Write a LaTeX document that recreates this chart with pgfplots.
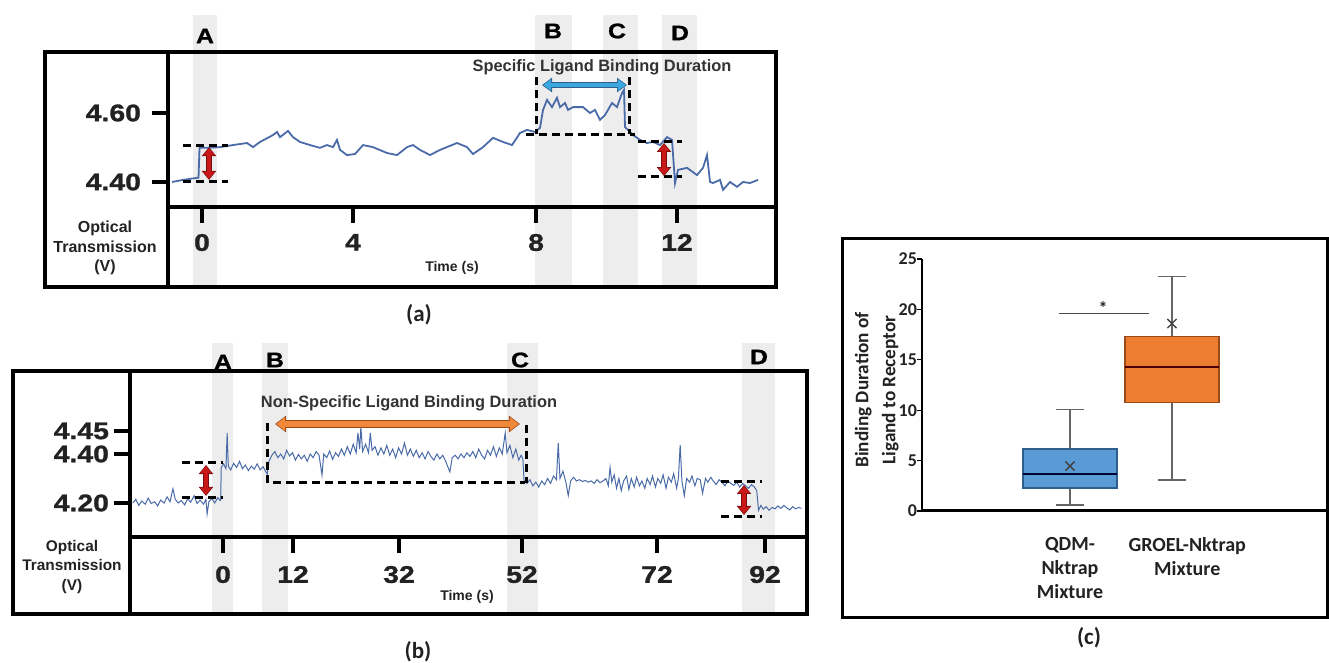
\documentclass[border=0pt]{standalone}
\usepackage{fontspec}
\setmainfont{Liberation Sans}
\newfontfamily\tickfont[FakeStretch=1.18,BoldFeatures={FakeBold=1.2}]{Liberation Sans}
\newfontfamily\cfont{Carlito}
\usepackage{pgfplots}
\pgfplotsset{compat=1.18}
\usepgfplotslibrary{statistics}
\usetikzlibrary{arrows.meta}
\definecolor{band}{HTML}{EDEDED}
\definecolor{trace}{HTML}{4A6BA8}
\definecolor{boxblue}{HTML}{5B9BD5}
\definecolor{boxblueD}{HTML}{2F5F8F}
\definecolor{boxorange}{HTML}{ED7D31}
\definecolor{boxorangeD}{HTML}{9A4A18}
\definecolor{arrowblue}{HTML}{3AA8DE}
\definecolor{arrowred}{HTML}{C81818}
\definecolor{arroworange}{HTML}{F0883A}
\definecolor{txt}{HTML}{222222}
\begin{document}
\begin{tikzpicture}
\useasboundingbox (0,0) rectangle (664.5pt,331.5pt);
% ---------- gray bands (pixel frame) ----------
\begin{scope}[x=0.5pt,y=-0.5pt,shift={(0pt,331.5pt)}]
  \fill[band] (193,15) rectangle (217,287);
  \fill[band] (535,15) rectangle (572,287);
  \fill[band] (603,15) rectangle (638,287);
  \fill[band] (662,15) rectangle (697,287);
  \fill[band] (212,343) rectangle (233,614);
  \fill[band] (262,343) rectangle (288,614);
  \fill[band] (507,343) rectangle (538,614);
  \fill[band] (742,343) rectangle (775,614);
\end{scope}

% ---------------- panel (a) ----------------
\begin{axis}[
  at={(84pt,228pt)}, anchor=south west, scale only axis,
  width=304pt, height=77.5pt,
  xmin=-0.859, xmax=14.502, ymin=4.3275, ymax=4.7768,
  axis line style={line width=1.8pt},
  tick align=outside, tick pos=left,
  xtick={0,3.815,8.44,12}, xticklabels={0,4,8,12},
  ytick={4.4,4.6}, yticklabels={4.40,4.60},
  major tick length=8pt,
  tick style={black, line width=2pt},
  ticklabel style={font=\tickfont\bfseries\fontsize{12}{12}\selectfont, text=txt},
  xticklabel style={yshift=-2pt},
  yticklabel style={xshift=-2pt},
  clip=false,
]
\addplot[trace, line width=0.9pt] table {
-0.758 4.400
-0.480 4.406
-0.126 4.412
-0.088 4.412
-0.063 4.499
0.126 4.499
0.455 4.501
0.783 4.507
1.137 4.513
1.289 4.501
1.465 4.516
1.794 4.536
1.895 4.545
1.971 4.530
2.173 4.548
2.299 4.530
2.476 4.516
2.729 4.507
2.981 4.499
3.158 4.507
3.310 4.501
3.411 4.522
3.487 4.493
3.663 4.478
3.866 4.481
4.068 4.507
4.320 4.501
4.674 4.484
4.927 4.478
5.179 4.501
5.331 4.507
5.508 4.493
5.761 4.478
6.013 4.493
6.443 4.513
6.695 4.501
6.847 4.481
7.100 4.501
7.352 4.528
7.605 4.516
7.832 4.507
8.034 4.542
8.211 4.551
8.413 4.545
8.540 4.557
8.616 4.609
8.717 4.638
8.843 4.617
8.969 4.644
9.045 4.617
9.171 4.629
9.247 4.609
9.373 4.617
9.626 4.617
9.803 4.600
9.929 4.609
10.056 4.580
10.182 4.594
10.359 4.629
10.485 4.617
10.612 4.658
10.662 4.667
10.687 4.559
10.763 4.551
10.889 4.536
11.066 4.522
11.243 4.513
11.395 4.516
11.572 4.507
11.749 4.530
11.875 4.522
11.951 4.397
12.026 4.435
12.254 4.441
12.506 4.420
12.658 4.441
12.759 4.478
12.835 4.400
12.911 4.397
13.088 4.406
13.164 4.377
13.340 4.400
13.517 4.386
13.669 4.400
13.845 4.397
14.048 4.406
};
% dashed guides
\draw[black, line width=1.5pt, dash pattern=on 4pt off 2.5pt] (axis cs:-0.48,4.507) -- (axis cs:0.657,4.507);
\draw[black, line width=1.5pt, dash pattern=on 4pt off 2.5pt] (axis cs:-0.48,4.400) -- (axis cs:0.657,4.400);
\draw[black, line width=1.5pt, dash pattern=on 4pt off 2.5pt] (axis cs:8.439,4.704) -- (axis cs:8.439,4.539);
\draw[black, line width=1.5pt, dash pattern=on 4pt off 2.5pt] (axis cs:10.788,4.704) -- (axis cs:10.788,4.539);
\draw[black, line width=1.5pt, dash pattern=on 4pt off 2.5pt] (axis cs:8.186,4.539) -- (axis cs:10.95,4.539);
\draw[black, line width=1.5pt, dash pattern=on 4pt off 2.5pt] (axis cs:11.016,4.516) -- (axis cs:12.128,4.516);
\draw[black, line width=1.5pt, dash pattern=on 4pt off 2.5pt] (axis cs:11.016,4.4145) -- (axis cs:12.128,4.4145);
% red arrows
\draw[line width=3pt, draw=arrowred!60!black, {Triangle[width=7pt,length=4.5pt]}-{Triangle[width=7pt,length=4.5pt]}] (axis cs:0.177,4.501) -- (axis cs:0.177,4.406);
\draw[line width=2pt, draw=arrowred, shorten <=0.5pt, shorten >=0.5pt, {Triangle[width=5.6pt,length=3.6pt]}-{Triangle[width=5.6pt,length=3.6pt]}] (axis cs:0.177,4.501) -- (axis cs:0.177,4.406);
\draw[line width=3pt, draw=arrowred!60!black, {Triangle[width=7pt,length=4.5pt]}-{Triangle[width=7pt,length=4.5pt]}] (axis cs:11.673,4.513) -- (axis cs:11.673,4.417);
\draw[line width=2pt, draw=arrowred, shorten <=0.5pt, shorten >=0.5pt, {Triangle[width=5.6pt,length=3.6pt]}-{Triangle[width=5.6pt,length=3.6pt]}] (axis cs:11.673,4.513) -- (axis cs:11.673,4.417);
% blue arrow
\draw[line width=3pt, draw=boxblueD, {Triangle[width=7pt,length=5pt]}-{Triangle[width=7pt,length=5pt]}] (axis cs:8.59,4.681) -- (axis cs:10.738,4.681);
\draw[line width=2pt, draw=arrowblue, shorten <=0.6pt, shorten >=0.6pt, {Triangle[width=5.6pt,length=4pt]}-{Triangle[width=5.6pt,length=4pt]}] (axis cs:8.59,4.681) -- (axis cs:10.738,4.681);
\end{axis}

% ---------------- panel (b) ----------------
\begin{axis}[
  at={(65pt,63pt)}, anchor=south west, scale only axis,
  width=338.5pt, height=83pt,
  xmin=-15.79, xmax=99.13, ymin=4.0612, ymax=4.7388,
  axis line style={line width=1.8pt},
  tick align=outside, tick pos=left,
  xtick={0,11.88,29.87,50.75,73.67,92}, xticklabels={0,12,32,52,72,92},
  ytick={4.2,4.4,4.494}, yticklabels={4.20,4.40,4.45},
  major tick length=8pt,
  tick style={black, line width=2pt},
  ticklabel style={font=\tickfont\bfseries\fontsize{12}{12}\selectfont, text=txt},
  xticklabel style={yshift=-3pt},
  yticklabel style={xshift=1pt},
  clip=false,
]
\addplot[trace, line width=0.5pt] table {
-15.3 4.200
-14.8 4.215
-14.3 4.190
-13.8 4.208
-13.2 4.195
-12.7 4.220
-12.2 4.198
-11.6 4.205
-11.1 4.188
-10.6 4.212
-10.0 4.200
-9.5 4.225
-9.0 4.205
-8.5 4.258
-8.1 4.215
-7.6 4.200
-7.1 4.210
-6.5 4.192
-6.0 4.218
-5.5 4.203
-4.9 4.230
-4.4 4.198
-3.9 4.212
-3.3 4.195
-2.9 4.215
-2.7 4.155
-2.4 4.205
-1.9 4.218
-1.4 4.200
-0.9 4.222
-0.5 4.210
-0.4 4.212
-0.3 4.345
0.1 4.360
0.5 4.340
0.7 4.486
0.9 4.350
1.3 4.335
1.8 4.362
2.3 4.345
2.8 4.370
3.3 4.340
3.8 4.355
4.3 4.332
4.8 4.350
5.3 4.338
5.8 4.360
6.3 4.335
6.8 4.348
7.2 4.330
7.5 4.318
7.8 4.370
8.3 4.395
8.8 4.410
9.3 4.385
9.8 4.400
10.3 4.380
10.8 4.415
11.3 4.392
11.8 4.405
12.3 4.375
12.8 4.398
13.3 4.380
13.8 4.395
14.3 4.370
14.8 4.400
15.3 4.385
15.8 4.410
16.3 4.395
16.8 4.314
17.1 4.400
17.6 4.385
18.1 4.412
18.6 4.378
19.1 4.405
19.6 4.390
20.1 4.420
20.6 4.395
21.1 4.430
21.6 4.400
22.1 4.440
22.6 4.405
22.9 4.486
23.2 4.420
23.4 4.510
23.7 4.410
24.2 4.440
24.7 4.405
25.0 4.486
25.3 4.415
25.8 4.430
26.3 4.395
26.8 4.425
27.3 4.400
27.8 4.435
28.3 4.395
28.8 4.420
29.3 4.385
29.8 4.425
30.3 4.400
30.8 4.445
31.3 4.395
31.8 4.420
32.3 4.390
32.8 4.415
33.3 4.385
33.8 4.405
34.3 4.380
34.8 4.410
35.3 4.390
35.8 4.375
36.3 4.400
36.8 4.380
37.3 4.395
37.8 4.370
38.5 4.327
38.9 4.385
39.4 4.395
39.9 4.380
40.4 4.400
40.9 4.385
41.4 4.405
41.9 4.390
42.4 4.410
42.9 4.385
43.4 4.420
43.9 4.395
44.4 4.380
44.9 4.415
45.4 4.395
45.9 4.430
46.4 4.390
46.9 4.425
47.4 4.400
47.9 4.486
48.2 4.405
48.7 4.435
49.2 4.385
49.7 4.420
50.2 4.375
50.6 4.395
50.9 4.380
51.1 4.290
51.6 4.280
52.1 4.295
52.6 4.270
53.1 4.285
53.6 4.265
54.1 4.290
54.6 4.275
55.1 4.300
55.6 4.280
56.1 4.310
56.6 4.295
56.9 4.445
57.2 4.300
57.7 4.330
58.2 4.285
58.6 4.230
59.0 4.290
59.5 4.305
60.0 4.290
60.5 4.295
61.0 4.288
61.5 4.292
62.0 4.285
62.5 4.290
63.0 4.280
63.5 4.295
64.0 4.283
64.5 4.290
65.0 4.300
65.4 4.270
65.7 4.345
66.0 4.285
66.4 4.315
66.8 4.260
67.2 4.300
67.6 4.250
68.0 4.290
68.5 4.310
68.9 4.255
69.3 4.300
69.8 4.265
70.2 4.305
70.7 4.270
71.1 4.290
71.6 4.260
72.0 4.300
72.5 4.275
72.9 4.310
73.4 4.265
73.8 4.300
74.3 4.280
74.7 4.315
75.2 4.260
75.6 4.305
76.1 4.285
76.5 4.320
77.0 4.260
77.3 4.300
77.6 4.437
77.9 4.290
78.3 4.230
78.7 4.300
79.2 4.285
79.6 4.310
80.1 4.270
80.5 4.300
81.0 4.295
81.4 4.240
81.9 4.300
82.3 4.285
82.8 4.305
83.2 4.290
83.7 4.275
84.2 4.295
84.7 4.285
85.2 4.270
85.7 4.290
86.2 4.280
86.7 4.272
87.2 4.285
87.7 4.265
88.2 4.280
88.7 4.270
89.2 4.260
89.7 4.275
90.2 4.265
90.6 4.250
90.9 4.170
91.3 4.190
91.7 4.175
92.2 4.185
92.7 4.170
93.2 4.182
93.7 4.176
94.2 4.188
94.7 4.178
95.2 4.190
95.7 4.180
96.2 4.172
96.7 4.185
97.2 4.176
97.7 4.182
98.2 4.178
};
\draw[black, line width=1.5pt, dash pattern=on 4pt off 2.5pt] (axis cs:-6.96,4.3673) -- (axis cs:0,4.3673);
\draw[black, line width=1.5pt, dash pattern=on 4pt off 2.5pt] (axis cs:-6.96,4.2204) -- (axis cs:0,4.2204);
\draw[black, line width=1.5pt, dash pattern=on 4pt off 2.5pt] (axis cs:7.47,4.5265) -- (axis cs:7.47,4.2816);
\draw[black, line width=1.5pt, dash pattern=on 4pt off 2.5pt] (axis cs:8.49,4.2816) -- (axis cs:51.26,4.2816);
\draw[black, line width=1.5pt, dash pattern=on 4pt off 2.5pt] (axis cs:51.43,4.518) -- (axis cs:51.43,4.2816);
\draw[black, line width=1.5pt, dash pattern=on 4pt off 2.5pt] (axis cs:84.53,4.2857) -- (axis cs:91.49,4.2857);
\draw[black, line width=1.5pt, dash pattern=on 4pt off 2.5pt] (axis cs:84.53,4.1429) -- (axis cs:91.49,4.1429);
\draw[line width=3pt, draw=arrowred!60!black, {Triangle[width=7pt,length=4.5pt]}-{Triangle[width=7pt,length=4.5pt]}] (axis cs:-2.89,4.355) -- (axis cs:-2.89,4.229);
\draw[line width=2pt, draw=arrowred, shorten <=0.5pt, shorten >=0.5pt, {Triangle[width=5.6pt,length=3.6pt]}-{Triangle[width=5.6pt,length=3.6pt]}] (axis cs:-2.89,4.355) -- (axis cs:-2.89,4.229);
\draw[line width=3pt, draw=arrowred!60!black, {Triangle[width=7pt,length=4.5pt]}-{Triangle[width=7pt,length=4.5pt]}] (axis cs:88.44,4.2735) -- (axis cs:88.44,4.151);
\draw[line width=2pt, draw=arrowred, shorten <=0.5pt, shorten >=0.5pt, {Triangle[width=5.6pt,length=3.6pt]}-{Triangle[width=5.6pt,length=3.6pt]}] (axis cs:88.44,4.2735) -- (axis cs:88.44,4.151);
\draw[line width=3.8pt, draw=boxorangeD, {Triangle[width=8pt,length=5.5pt]}-{Triangle[width=8pt,length=5.5pt]}] (axis cs:8.83,4.5224) -- (axis cs:50.41,4.5224);
\draw[line width=2.8pt, draw=arroworange, shorten <=0.6pt, shorten >=0.6pt, {Triangle[width=6.6pt,length=4.5pt]}-{Triangle[width=6.6pt,length=4.5pt]}] (axis cs:8.83,4.5224) -- (axis cs:50.41,4.5224);
\end{axis}

% ---------------- panel (c) ----------------
\begin{axis}[
  at={(461pt,76pt)}, anchor=south west, scale only axis,
  width=202.5pt, height=126pt,
  xmin=-0.451, xmax=3.52, ymin=0, ymax=25,
  axis x line*=bottom, axis y line*=left,
  x axis line style={line width=1.5pt},
  y axis line style={line width=1.1pt},
  ytick={0,5,10,15,20,25},
  xtick={1,2.15},
  xticklabels={{QDM-\\Nktrap\\Mixture},{GROEL-Nktrap\\Mixture}},
  xticklabel style={align=center, font=\cfont\bfseries\fontsize{10}{12.2}\selectfont, anchor=north, yshift=-7pt, text=txt},
  x tick style={draw=none},
  y tick style={black, line width=0.6pt},
  tick align=outside, major tick length=2.5pt,
  /pgf/number format/assume math mode=true,
  yticklabel style={font=\cfont\bfseries\fontsize{9}{10}\selectfont, text=txt, xshift=3.5pt},
  every axis y label/.style={at={(axis description cs:-0.112,0.48)}, rotate=90, anchor=center, align=center, font=\cfont\bfseries\fontsize{9.6}{13.5}\selectfont, text=txt},
  ylabel={Binding Duration of\\Ligand to Receptor},
  clip=false,
]
\addplot[fill=boxblue, draw=boxblueD, line width=0.6pt,
  boxplot prepared={draw direction=y, lower whisker=0.6, lower quartile=2.28, median=3.67,
    upper quartile=6.15, upper whisker=10.1,
    draw position=1, box extend=0.92, whisker extend=0.27,
    every whisker/.style={draw=black!60, line width=0.6pt},
    every median/.style={draw=black!80!blue, line width=0.8pt}}]
  coordinates {};
\addplot[fill=boxorange, draw=boxorangeD, line width=0.6pt,
  boxplot prepared={draw direction=y, lower whisker=3.07, lower quartile=10.8, median=14.3,
    upper quartile=17.3, upper whisker=23.3,
    draw position=2, box extend=0.92, whisker extend=0.27,
    every whisker/.style={draw=black!60, line width=0.6pt},
    every median/.style={draw=black!70!red, line width=0.8pt}}]
  coordinates {};
% means
\addplot[only marks, mark=x, mark size=3.2pt, draw=black!75, line width=0.7pt] coordinates {(1,4.46) (2,18.6)};
\draw[black!70, line width=0.6pt] (axis cs:0.892,19.6) -- (axis cs:1.775,19.6);
\node[font=\cfont\bfseries\fontsize{9}{9}\selectfont, text=txt] at (axis cs:1.324,20.1) {*};
\end{axis}

% ---------- frames and free text (pixel frame) ----------
\begin{scope}[x=0.5pt,y=-0.5pt,shift={(0pt,331.5pt)}]
  \draw[line width=1.8pt] (45,52) rectangle (776,287);
  \draw[line width=1.8pt] (168,52) -- (168,287);
  \draw[line width=1.8pt] (168,207) -- (776,207);
  \draw[line width=1.8pt] (13,371) rectangle (807,614);
  \draw[line width=1.8pt] (130,371) -- (130,614);
  \draw[line width=1.8pt] (130,537) -- (807,537);
  \draw[line width=1.5pt] (842,239) rectangle (1327,618);
  % band letters
  \begin{scope}[every node/.style={font=\tickfont\bfseries\fontsize{10.5}{10.5}\selectfont, text=black, inner sep=0pt}]
    \node at (205,36) {A};
    \node at (553,31) {B};
    \node at (617,31) {C};
    \node at (680,33) {D};
    \node at (223,362) {A};
    \node at (275,360) {B};
    \node at (520,360) {C};
    \node at (759,357) {D};
  \end{scope}
  % labels
  \node[align=center, font=\bfseries\fontsize{8}{9.75}\selectfont, text=txt] at (105,248) {Optical\\Transmission\\(V)};
  \node[align=center, font=\bfseries\fontsize{7.7}{9.75}\selectfont, text=txt] at (72,567) {Optical\\Transmission\\(V)};
  \node[font=\bfseries\fontsize{7}{8}\selectfont, text=txt] at (452,268) {Time (s)};
  \node[font=\bfseries\fontsize{7}{8}\selectfont, text=txt] at (467,597) {Time (s)};
  \node[font=\bfseries\fontsize{8.2}{9}\selectfont, text=black!80] at (602,67) {Specific Ligand Binding Duration};
  \node[font=\bfseries\fontsize{8.2}{9}\selectfont, text=black!80] at (409,403) {Non-Specific Ligand Binding Duration};
  \node[font=\cfont\bfseries\fontsize{11.5}{12}\selectfont, text=txt] at (419,315) {(a)};
  \node[font=\cfont\bfseries\fontsize{11.5}{12}\selectfont, text=txt] at (418,652) {(b)};
  \node[font=\cfont\bfseries\fontsize{11.5}{12}\selectfont, text=txt] at (1089,638) {(c)};
\end{scope}
\end{tikzpicture}
\end{document}
